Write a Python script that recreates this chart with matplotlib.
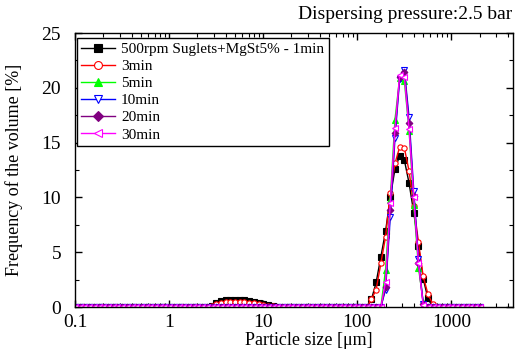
#!/usr/bin/env python3
# -*- coding: utf-8 -*-
import matplotlib
matplotlib.use("Agg")
import matplotlib.pyplot as plt
from matplotlib.ticker import FixedLocator, LogLocator, NullFormatter, MultipleLocator

# Particle size channels [um] (laser diffraction bins)
sizes = [
    0.100, 0.112, 0.126, 0.142, 0.159, 0.178, 0.200, 0.224, 0.252, 0.283,
    0.317, 0.356, 0.399, 0.448, 0.502, 0.564, 0.632, 0.710, 0.796, 0.893,
    1.002, 1.125, 1.262, 1.416, 1.589, 1.783, 2.000, 2.244, 2.518, 2.825,
    3.170, 3.557, 3.991, 4.477, 5.024, 5.637, 6.325, 7.096, 7.962, 8.934,
    10.02, 11.25, 12.62, 14.16, 15.89, 17.83, 20.00, 22.44, 25.18, 28.25,
    31.70, 35.57, 39.91, 44.77, 50.24, 56.37, 63.25, 70.96, 79.62, 89.34,
    100.2, 112.5, 126.2, 141.6, 158.9, 178.3, 200.0, 224.4, 251.8, 282.5,
    317.0, 355.7, 399.1, 447.7, 502.4, 563.7, 632.5, 709.6, 796.2, 893.4,
    1002.4, 1124.7, 1261.9, 1415.9, 1588.7, 1782.5, 2000.0,
]

freq_1min = [
    0, 0, 0, 0, 0, 0, 0, 0, 0, 0,
    0, 0, 0, 0, 0, 0, 0, 0, 0, 0,
    0, 0, 0, 0, 0, 0, 0, 0, 0, 0.10,
    0.35, 0.52, 0.60, 0.65, 0.67, 0.66, 0.63, 0.57, 0.49, 0.40,
    0.30, 0.20, 0.12, 0.05, 0, 0, 0, 0, 0, 0,
    0, 0, 0, 0, 0, 0, 0, 0, 0, 0,
    0, 0, 0, 0.7, 2.25, 4.6, 6.9, 10.0, 12.6, 13.8,
    13.4, 11.3, 8.6, 5.6, 2.6, 0.8, 0, 0, 0, 0,
    0, 0, 0, 0, 0, 0, 0,
]
freq_3min = [
    0, 0, 0, 0, 0, 0, 0, 0, 0, 0,
    0, 0, 0, 0, 0, 0, 0, 0, 0, 0,
    0, 0, 0, 0, 0, 0, 0, 0, 0, 0.07,
    0.25, 0.37, 0.44, 0.47, 0.49, 0.48, 0.45, 0.40, 0.33, 0.26,
    0.18, 0.11, 0.06, 0.02, 0, 0, 0, 0, 0, 0,
    0, 0, 0, 0, 0, 0, 0, 0, 0, 0,
    0, 0, 0, 0.7, 1.6, 4.0, 6.4, 10.4, 13.1, 14.6,
    14.5, 12.4, 9.2, 5.9, 2.8, 1.2, 0.3, 0, 0, 0,
    0, 0, 0, 0, 0, 0, 0,
]
freq_5min = [
    0, 0, 0, 0, 0, 0, 0, 0, 0, 0,
    0, 0, 0, 0, 0, 0, 0, 0, 0, 0,
    0, 0, 0, 0, 0, 0, 0, 0, 0, 0,
    0, 0, 0, 0, 0, 0, 0, 0, 0, 0,
    0, 0, 0, 0, 0, 0, 0, 0, 0, 0,
    0, 0, 0, 0, 0, 0, 0, 0, 0, 0,
    0, 0, 0, 0, 0, 0, 3.4, 9.8, 17.1, 20.9,
    20.6, 16.1, 9.3, 3.6, 0.5, 0, 0, 0, 0, 0,
    0, 0, 0, 0, 0, 0, 0,
]
freq_10min = [
    0, 0, 0, 0, 0, 0, 0, 0, 0, 0,
    0, 0, 0, 0, 0, 0, 0, 0, 0, 0,
    0, 0, 0, 0, 0, 0, 0, 0, 0, 0,
    0, 0, 0, 0, 0, 0, 0, 0, 0, 0,
    0, 0, 0, 0, 0, 0, 0, 0, 0, 0,
    0, 0, 0, 0, 0, 0, 0, 0, 0, 0,
    0, 0, 0, 0, 0, 0, 1.6, 8.2, 15.4, 20.8,
    21.6, 17.3, 10.6, 4.4, 0.3, 0, 0, 0, 0, 0,
    0, 0, 0, 0, 0, 0, 0,
]
freq_20min = [
    0, 0, 0, 0, 0, 0, 0, 0, 0, 0,
    0, 0, 0, 0, 0, 0, 0, 0, 0, 0,
    0, 0, 0, 0, 0, 0, 0, 0, 0, 0,
    0, 0, 0, 0, 0, 0, 0, 0, 0, 0,
    0, 0, 0, 0, 0, 0, 0, 0, 0, 0,
    0, 0, 0, 0, 0, 0, 0, 0, 0, 0,
    0, 0, 0, 0, 0, 0, 1.8, 8.9, 15.9, 21.0,
    21.4, 16.8, 10.1, 4.0, 0.3, 0, 0, 0, 0, 0,
    0, 0, 0, 0, 0, 0, 0,
]
freq_30min = [
    0, 0, 0, 0, 0, 0, 0, 0, 0, 0,
    0, 0, 0, 0, 0, 0, 0, 0, 0, 0,
    0, 0, 0, 0, 0, 0, 0, 0, 0, 0,
    0, 0, 0, 0, 0, 0, 0, 0, 0, 0,
    0, 0, 0, 0, 0, 0, 0, 0, 0, 0,
    0, 0, 0, 0, 0, 0, 0, 0, 0, 0,
    0, 0, 0, 0, 0, 0, 2.3, 9.5, 16.3, 21.2,
    21.0, 16.2, 10.0, 4.0, 0.2, 0, 0, 0, 0, 0,
    0, 0, 0, 0, 0, 0, 0,
]

labels = ["500rpm Suglets+MgSt5% - 1min", "3min", "5min", "10min", "20min", "30min"]
x_ticks = [0.1, 1, 10, 100, 1000]
x_tick_labels = ["0.1", "1", "10", "100", "1000"]


def main():
    plt.rcParams["font.family"] = ["Liberation Serif", "DejaVu Serif"]

    fig = plt.figure(figsize=(5.19, 3.55), dpi=100)
    ax = fig.add_axes([0.1445, 0.135, 0.8435, 0.772])

    series = [freq_1min, freq_3min, freq_5min, freq_10min, freq_20min, freq_30min]
    # (color, marker, filled)
    styles = [
        ("#000000", "s", True),
        ("#FF0000", "o", False),
        ("#00FF00", "^", True),
        ("#0000FF", "v", False),
        ("#800080", "D", True),
        ("#FF00FF", "<", False),
    ]
    for vals, lab, (c, m, filled) in zip(series, labels, styles):
        ms = 3.8 if m != "D" else 3.4
        ax.plot(sizes, vals, color=c, lw=1.0, marker=m, markersize=ms,
                markerfacecolor=c if filled else "white", markeredgecolor=c,
                markeredgewidth=0.8, label=lab)

    ax.set_xscale("log")
    ax.set_xlim(0.1, 4500)
    ax.set_ylim(0, 25)
    ax.xaxis.set_major_locator(FixedLocator(x_ticks))
    ax.set_xticklabels(x_tick_labels)
    ax.xaxis.set_minor_locator(LogLocator(base=10, subs=range(2, 10), numticks=20))
    ax.xaxis.set_minor_formatter(NullFormatter())
    ax.yaxis.set_major_locator(MultipleLocator(5))
    ax.yaxis.set_minor_locator(MultipleLocator(2.5))

    ax.tick_params(which="both", direction="in", top=True, right=True, labelsize=14)
    ax.tick_params(which="major", length=5, width=1)
    ax.tick_params(which="minor", length=3, width=0.8)
    ax.tick_params(axis="x", which="major", pad=5)
    ax.tick_params(axis="y", which="major", pad=10)
    for sp in ax.spines.values():
        sp.set_linewidth(1.0)

    ax.set_xlabel("Particle size [\u03bcm]", fontsize=13)
    ax.xaxis.set_label_coords(0.535, -0.09)
    ax.set_ylabel("Frequency of the volume [%]", fontsize=13)
    ax.yaxis.set_label_coords(-0.118, 0.5)
    fig.text(0.987, 0.96, "Dispersing pressure:2.5 bar", ha="right", va="center", fontsize=14)

    leg = ax.legend(loc="upper left", bbox_to_anchor=(0.004, 0.982), fontsize=11,
                    frameon=True, fancybox=False, edgecolor="black", framealpha=1,
                    markerscale=1.5, handlelength=2.2, handletextpad=0.4,
                    labelspacing=0.22, borderpad=0.3, borderaxespad=0)
    leg.get_frame().set_linewidth(1.0)

    fig.savefig("out.png", dpi=100)
    plt.close(fig)


if __name__ == "__main__":
    main()
